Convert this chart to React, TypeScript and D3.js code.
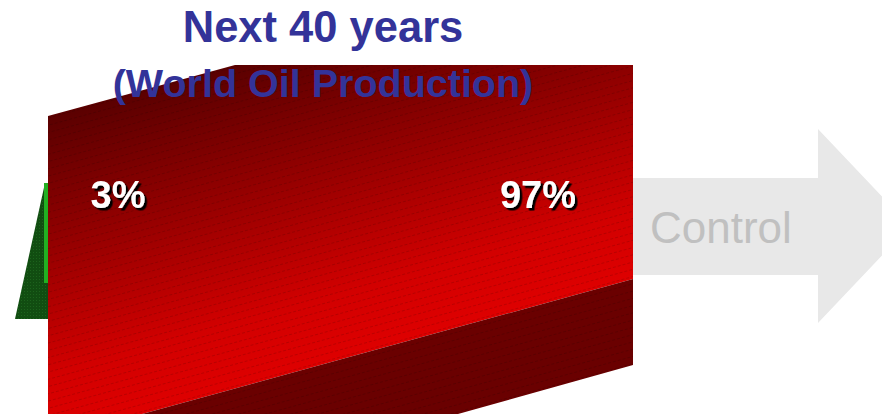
import React from 'react';
import * as d3 from 'd3';

// chart values
const shares = [3, 97];
const shareLabels = ['3%', '97%'];
const titleLines = ['Next 40 years', '(World Oil Production)'];
const arrowLabel = 'Control';

const W = 882;
const H = 414;
const SLOPE = 0.275;

const App: React.FC = () => {
  const line = d3.line<[number, number]>().curve(d3.curveLinearClosed);

  // label x positions on the front face
  const xLabel = d3.scalePoint<string>().domain(shareLabels).range([118, 538]);

  // front face polygon of the big slice
  const faceRight = 633;
  const faceBottomAt = (x: number) => 279 + SLOPE * (faceRight - x);
  const bandBottomAt = (x: number) => 365 + 0.28 * (faceRight - x);
  const xFaceHitsBottom = faceRight - (H - 279) / SLOPE;
  const xBandHitsBottom = faceRight - (H - 365) / 0.28;

  const face: [number, number][] = [
    [48, 116], [235, 65], [faceRight, 65], [faceRight, faceBottomAt(faceRight)],
    [xFaceHitsBottom, H], [48, H],
  ];
  const band: [number, number][] = [
    [faceRight, 279], [faceRight, bandBottomAt(faceRight)], [xBandHitsBottom, H], [xFaceHitsBottom, H],
  ];
  const green: [number, number][] = [[45, 183], [15, 319], [48, 319], [48, 183]];
  const arrow: [number, number][] = [
    [600, 178], [818, 178], [818, 129], [910, 226], [818, 323], [818, 275], [600, 275],
  ];

  const angle = (-Math.atan(SLOPE) * 180) / Math.PI;

  return (
    <svg width={W} height={H} style={{ position: 'absolute', left: 0, top: 0 }}
      fontFamily="'Liberation Sans', Arial, sans-serif">
      <defs>
        <linearGradient id="faceGrad" gradientUnits="userSpaceOnUse" x1={48} y1={116} x2={131} y2={417}>
          <stop offset="0" stopColor="#5a0000" />
          <stop offset="0.45" stopColor="#9c0000" />
          <stop offset="0.8" stopColor="#d20000" />
          <stop offset="1" stopColor="#de0000" />
        </linearGradient>
        <pattern id="stripes" width={40} height={7} patternUnits="userSpaceOnUse"
          patternTransform={`rotate(${angle})`}>
          <line x1={0} y1={0.5} x2={40} y2={0.5} stroke="#000" strokeOpacity={0.18}
            strokeWidth={0.8} strokeDasharray="3 2" />
        </pattern>
        <pattern id="greenDots" width={3} height={3} patternUnits="userSpaceOnUse">
          <rect width={3} height={3} fill="#114d11" />
          <rect width={1} height={1} fill="#1c631c" />
        </pattern>
        <filter id="shadow" x="-10%" y="-10%" width="130%" height="130%">
          <feDropShadow dx={2.5} dy={2.5} stdDeviation={0.3} floodColor="#000" floodOpacity={1} />
        </filter>
      </defs>

      {/* arrow */}
      <path d={line(arrow) ?? ''} fill="#e8e8e8" />
      <text x={650} y={243} fontSize={44} fill="#c0c0c0">{arrowLabel}</text>

      {/* small slice */}
      <path d={line(green) ?? ''} fill="url(#greenDots)" data-share={shares[0]} />
      <rect x={44} y={183} width={4} height={100} fill="#22b022" />

      {/* large slice */}
      <path d={line(face) ?? ''} fill="url(#faceGrad)" data-share={shares[1]} />
      <path d={line(face) ?? ''} fill="url(#stripes)" />
      <path d={line(band) ?? ''} fill="#6a0000" />
      <path d={line(band) ?? ''} fill="url(#stripes)" />

      {/* titles */}
      <text x={323} y={42} textAnchor="middle" fontSize={43.5} fontWeight="bold" fill="#333399">
        {titleLines[0]}
      </text>
      <text x={323} y={97} textAnchor="middle" fontSize={39.5} fontWeight="bold" fill="#333399">
        {titleLines[1]}
      </text>

      {/* share labels */}
      {shareLabels.map((lab) => (
        <text key={lab} x={xLabel(lab) ?? 0} y={208} textAnchor="middle" fontSize={38}
          fontWeight="bold" fill="#fff" filter="url(#shadow)">{lab}</text>
      ))}
    </svg>
  );
};

export default App;
